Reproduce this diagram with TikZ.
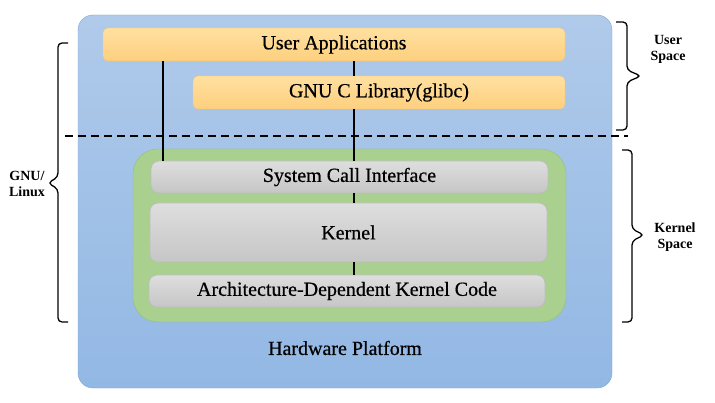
\documentclass[tikz,border=0pt]{standalone}
\usepackage{fontspec}
\setmainfont{Liberation Serif}
\newfontfamily\lblfont{Liberation Serif}[FakeBold=0.6]

\definecolor{hwtop}{RGB}{176,202,234}
\definecolor{hwbot}{RGB}{146,184,228}
\definecolor{hwline}{RGB}{128,166,214}
\definecolor{usrtop}{RGB}{255,224,160}
\definecolor{usrbot}{RGB}{253,208,126}
\definecolor{usrline}{RGB}{245,200,120}
\definecolor{krnfill}{RGB}{169,208,142}
\definecolor{krnline}{RGB}{146,194,118}
\definecolor{grytop}{RGB}{222,222,222}
\definecolor{grybot}{RGB}{198,198,198}
\definecolor{gryline}{RGB}{190,190,190}

\begin{document}
\begin{tikzpicture}[x=1pt, y=-1pt,
    every node/.style={inner sep=0pt, outer sep=0pt},
    lbl/.style={font=\lblfont\fontsize{20}{22}\selectfont},
    side/.style={font=\fontsize{14}{16}\selectfont\bfseries, align=center},
    usrbox/.style={rounded corners=5pt, draw=usrline, top color=usrtop, bottom color=usrbot, lbl},
    grybox/.style={rounded corners=8pt, draw=gryline, line width=0.8pt, top color=grytop, bottom color=grybot, lbl},
    conn/.style={line width=2pt, black},
    brace/.style={line width=1.3pt, rounded corners=4pt}]
\useasboundingbox (0,0) rectangle (715,403);

% hardware platform
\node[rounded corners=15pt, draw=hwline, top color=hwtop, bottom color=hwbot,
    minimum width=534pt, minimum height=373pt] (hwbox) at (345,201.5) {};
\node[lbl] (hw) at (345,348) {Hardware Platform};

% user space
\node[usrbox, minimum width=462pt, minimum height=33pt] (ua) at (334,44.5) {User Applications};
\node[usrbox, minimum width=372pt, minimum height=33pt] (glibc) at (379,92.5) {GNU C Library(glibc)};

\draw[line width=1.5pt, dash pattern=on 8pt off 5pt] (65,136) -- (628,136);

% kernel space
\node[rounded corners=25pt, draw=krnline, fill=krnfill,
    minimum width=433pt, minimum height=173pt] (krnbox) at (349.5,235.5) {};
\node[grybox, minimum width=397pt, minimum height=32pt] (sci) at (349.5,177) {System Call Interface};
\node[grybox, minimum width=397pt, minimum height=59pt] (kern) at (348.5,232.5) {Kernel};
\node[grybox, minimum width=396pt, minimum height=32pt] (arch) at (347,291) {Architecture-Dependent Kernel Code};

% connectors
\coordinate (left) at (163,0);
\coordinate (mid) at (354,0);
\draw[conn] (ua.south -| left) -- (sci.north -| left);
\foreach \a/\b in {ua/glibc, glibc/sci, sci/kern, kern/arch}
    \draw[conn] (\a.south -| mid) -- (\b.north -| mid);

% braces
\draw[brace] (68,43) -- (58,43) -- (58,177) -- (48,183) -- (58,189) -- (58,322) -- (68,322);
\draw[brace] (616,22) -- (627,22) -- (627,70) -- (641,76) -- (627,82) -- (627,130) -- (616,130);
\draw[brace] (622,150) -- (632,150) -- (632,229) -- (644,235) -- (632,241) -- (632,322) -- (622,322);
\node[side] (gnu) at (27,184) {GNU/\\Linux};
\node[side] (us) at (668,49) {User\\Space};
\node[side] (ks) at (675,237) {Kernel\\Space};
\end{tikzpicture}
\end{document}
